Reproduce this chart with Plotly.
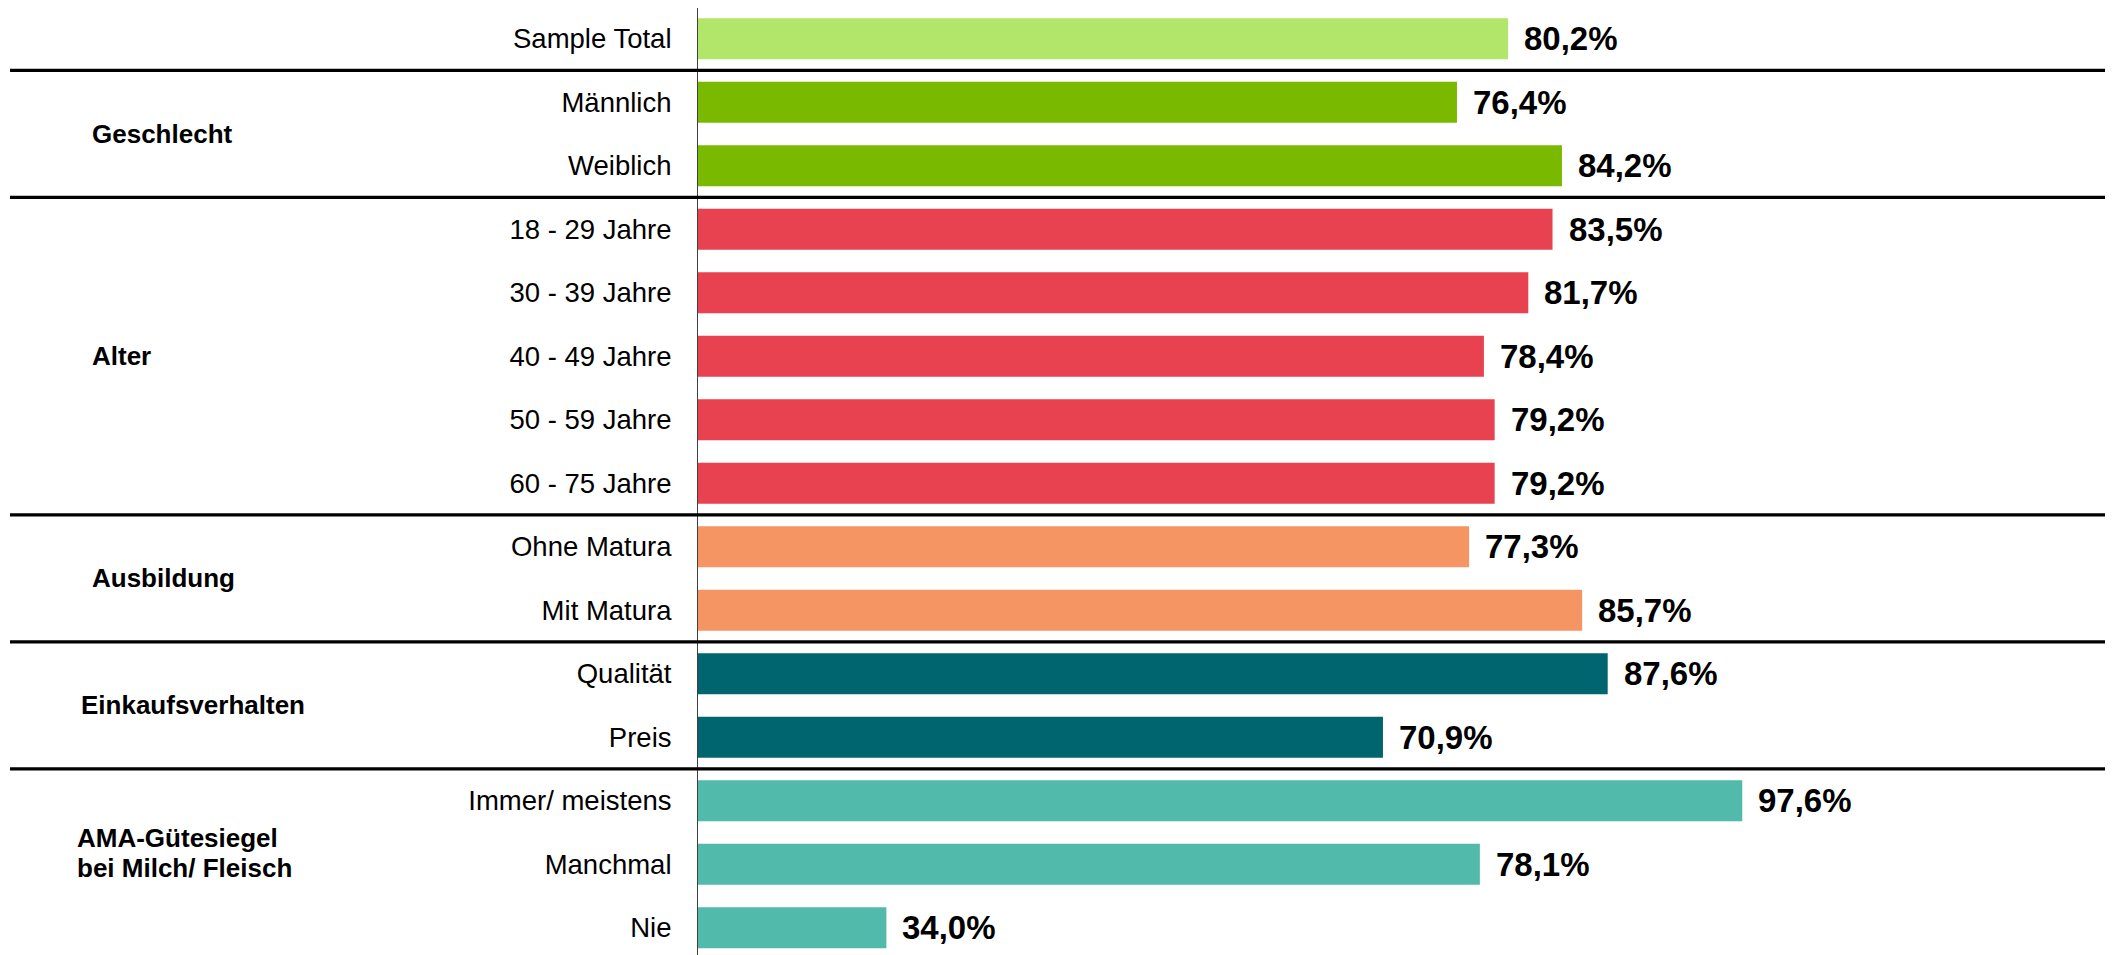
import plotly.graph_objects as go

categories = ["Sample Total", "Männlich", "Weiblich", "18 - 29 Jahre", "30 - 39 Jahre",
              "40 - 49 Jahre", "50 - 59 Jahre", "60 - 75 Jahre", "Ohne Matura", "Mit Matura",
              "Qualität", "Preis", "Immer/ meistens", "Manchmal", "Nie"]
values = [80.2, 76.4, 84.2, 83.5, 81.7, 78.4, 79.2, 79.2, 77.3, 85.7, 87.6, 70.9, 97.6, 78.1, 34.0]
group_names = ["", "Geschlecht", "Alter", "Ausbildung", "Einkaufsverhalten",
               "AMA-Gütesiegel<br>bei Milch/ Fleisch"]
group_sizes = [1, 2, 5, 2, 2, 3]
group_colors = ["#B2E66A", "#79B900", "#E84150", "#F59564", "#00656E", "#52BAAA"]

# layout constants (page body has an 8px margin, so the figure is 8px smaller)
W, H = 2105, 947
ML, MR, MT, MB = 690, 2, 0, 0
PW = W - ML - MR
group_label_px = [0, 82, 82, 82, 71, 67]
group_label_yshift = [0, 0, 0, 0, 0, 11.5]
LINE_GAP = 30
FONT = "Liberation Sans, Arial, sans-serif"

colors = []
for c, n in zip(group_colors, group_sizes):
    colors += [c] * n

idx = list(range(len(categories)))

fig = go.Figure()
fig.add_trace(go.Bar(
    x=values, y=idx, base=0, orientation="h",
    marker=dict(color=colors, line=dict(width=0)),
    width=0.645, hoverinfo="x+y",
))

annotations = []
for i, v in zip(idx, values):
    annotations.append(dict(
        x=v, y=i, xref="x", yref="y", xanchor="left", yanchor="middle",
        xshift=14, showarrow=False,
        text="<b>" + f"{v:.1f}".replace(".", ",") + "%</b>",
        font=dict(family=FONT, size=33, color="#000000"),
    ))

shapes = []
start = 0
for g, (name, n) in enumerate(zip(group_names, group_sizes)):
    end = start + n - 1
    if name:
        lines = name.split("<br>")
        k = len(lines)
        for j, line in enumerate(lines):
            annotations.append(dict(
                x=(group_label_px[g] - ML) / PW, y=(start + end) / 2,
                xref="paper", yref="y", xanchor="left", yanchor="middle",
                yshift=group_label_yshift[g] + ((k - 1) / 2 - j) * LINE_GAP,
                showarrow=False, align="left", text="<b>" + line + "</b>",
                font=dict(family=FONT, size=26, color="#000000"),
            ))
    if start > 0:
        shapes.append(dict(
            type="line", xref="paper", yref="y",
            x0=(2 - ML) / PW, x1=1, y0=start - 0.5, y1=start - 0.5,
            line=dict(color="#000000", width=3.3),
        ))
    start = end + 1

fig.update_layout(
    width=W, height=H,
    margin=dict(l=ML, r=MR, t=MT, b=MB, autoexpand=False),
    paper_bgcolor="white", plot_bgcolor="white",
    showlegend=False,
    annotations=annotations, shapes=shapes,
    xaxis=dict(range=[20, 125], showgrid=False, zeroline=False,
               showticklabels=False, showline=False, ticks=""),
    yaxis=dict(range=[14.43, -0.4835], tickmode="array",
               tickvals=idx, ticktext=categories, showgrid=False, zeroline=False,
               showline=True, linecolor="#404040", linewidth=1, ticks="",
               ticklabelstandoff=20,
               tickfont=dict(family=FONT, size=27.5, color="#000000")),
    font=dict(family=FONT),
)

fig.write_html("out.html")
